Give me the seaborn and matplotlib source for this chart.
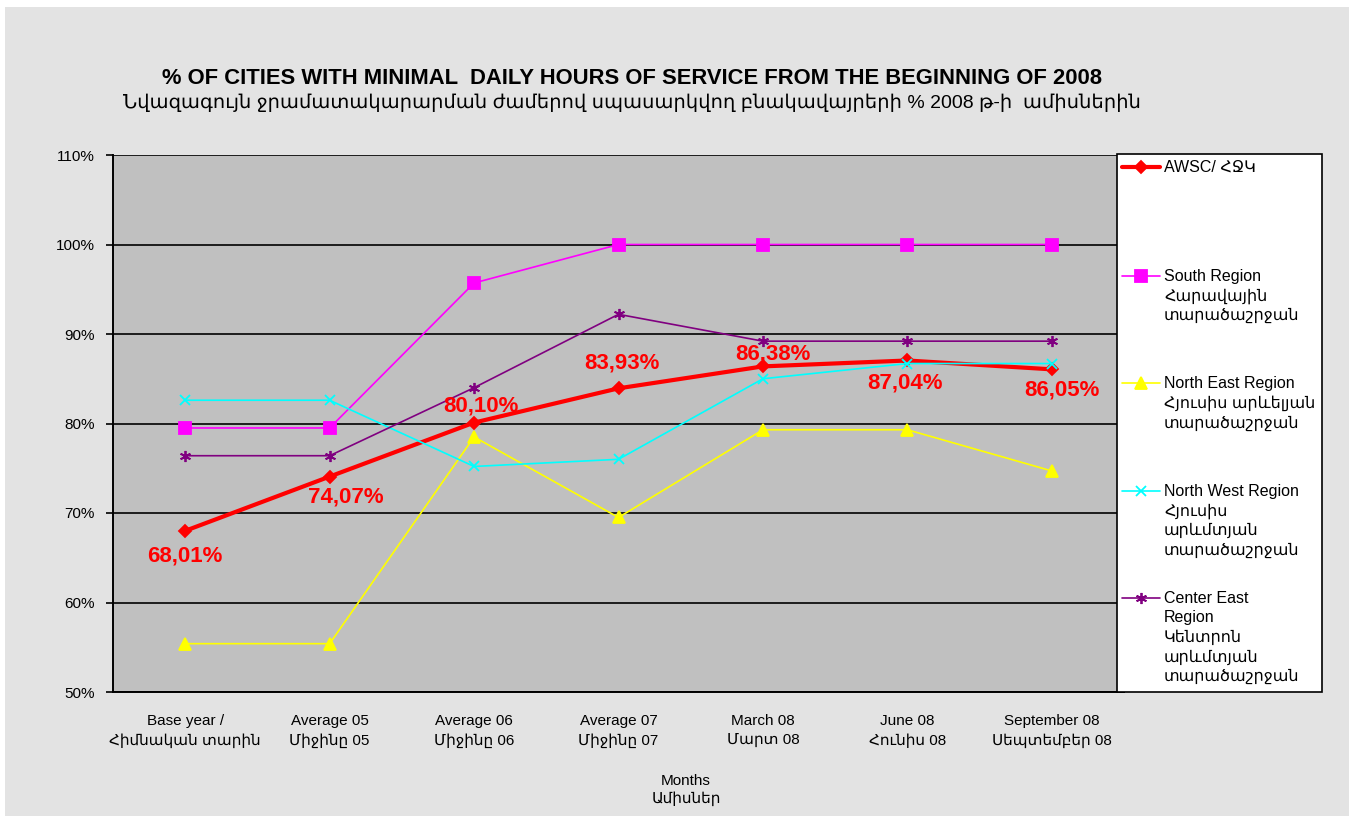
import matplotlib.pyplot as plt
import pandas as pd
import seaborn as sns
from matplotlib.lines import Line2D
from matplotlib.patches import Rectangle
from matplotlib.ticker import FixedLocator, PercentFormatter

W, H = 1349, 816

# data (percent of cities)
periods = [
    "Base year /\nՀիմնական տարին",
    "Average 05\nՄիջինը 05",
    "Average 06\nՄիջինը 06",
    "Average 07\nՄիջինը 07",
    "March 08\nՄարտ 08",
    "June 08\nՀունիս 08",
    "September 08\nՍեպտեմբեր 08",
]
awsc = [68.01, 74.07, 80.10, 83.93, 86.38, 87.04, 86.05]
south = [79.5, 79.5, 95.7, 100.0, 100.0, 100.0, 100.0]
north_east = [55.4, 55.4, 78.5, 69.5, 79.3, 79.3, 74.7]
north_west = [82.6, 82.6, 75.2, 76.0, 85.0, 86.7, 86.7]
center_east = [76.4, 76.4, 84.0, 92.2, 89.2, 89.2, 89.2]

series_names = [
    "AWSC/ ՀՋԿ",
    "South Region\nՀարավային\nտարածաշրջան",
    "North East Region\nՀյուսիս արևելյան\nտարածաշրջան",
    "North West Region\nՀյուսիս\nարևմտյան\nտարածաշրջան",
    "Center East\nRegion\nԿենտրոն\nարևմտյան\nտարածաշրջան",
]
series_values = [awsc, south, north_east, north_west, center_east]

# styles
colors = ["#ff0000", "#ff00ff", "#ffff00", "#00ffff", "#800080"]
markers = ["D", "s", "^", "x", (6, 2, 0)]
widths = [3.0, 1.2, 1.2, 1.2, 1.2]
msizes = [6, 8, 8, 7, 8]
label_offsets = [(0, -25), (16, -20), (7, 17), (3, 25), (10, 12), (-2, -23), (10, -21)]
legend_rows = [167, 276, 383, 491, 598]

sns.set_style("white")
plt.rcParams["font.family"] = ["Liberation Sans", "DejaVu Sans"]
plt.rcParams["text.color"] = "black"
plt.rcParams["xtick.color"] = "black"
plt.rcParams["ytick.color"] = "black"

fig = plt.figure(figsize=(W / 100, H / 100), dpi=100)
fig.patch.set_facecolor("white")
fig.add_artist(Rectangle((5 / W, 0), 1, 1 - 7 / H, transform=fig.transFigure,
                         facecolor="#e3e3e3", edgecolor="none", zorder=-5))

ax = fig.add_axes([113 / W, 1 - 692 / H, (1124 - 113) / W, (692 - 155) / H])
ax.set_facecolor("#c0c0c0")

frames = []
for name, vals in zip(series_names, series_values):
    frames.append(pd.DataFrame({"series": name, "pos": range(len(periods)), "value": vals}))
df = pd.concat(frames)

for name, c, m, lw, ms in zip(series_names, colors, markers, widths, msizes):
    sub = df[df["series"] == name]
    sns.lineplot(data=sub, x="pos", y="value", ax=ax, color=c, marker=m, lw=lw,
                 markersize=ms, markeredgecolor=c, markeredgewidth=1.3, zorder=3)

for i, (v, off) in enumerate(zip(awsc, label_offsets)):
    ax.annotate(f"{v:.2f}%".replace(".", ","), (i, v), xytext=off, textcoords="offset pixels",
                ha="center", va="center", color="#ff0000", fontsize=16, fontweight="bold", zorder=5)

ax.set_xlim(-0.5, len(periods) - 0.5)
ax.set_ylim(50, 110)
ax.yaxis.set_major_locator(FixedLocator(range(50, 111, 10)))
ax.yaxis.set_major_formatter(PercentFormatter(decimals=0))
ax.grid(axis="y", color="black", lw=1.2)
ax.grid(axis="x", visible=False)
ax.set_xticks(range(len(periods)))
ax.set_xticklabels(periods, fontsize=11, linespacing=1.45)
ax.set_xticks([x - 0.5 for x in range(len(periods) + 1)], minor=True)
ax.tick_params(axis="x", which="major", length=0, pad=16)
ax.tick_params(axis="x", which="minor", length=5, width=1.2, color="black", direction="out")
ax.tick_params(axis="y", length=5, width=1.2, color="black", direction="out", labelsize=11, pad=8, left=True)
ax.set_xlabel("")
ax.set_ylabel("")
for side in ["top", "right"]:
    ax.spines[side].set_visible(False)
for side in ["left", "bottom"]:
    ax.spines[side].set_color("black")
    ax.spines[side].set_linewidth(1.4)

fig.text(686 / W, 1 - 790 / H, "Months\nԱմիսներ", ha="center", va="center", fontsize=11, linespacing=1.35)
fig.text(632 / W, 1 - 78 / H, "% OF CITIES WITH MINIMAL  DAILY HOURS OF SERVICE FROM THE BEGINNING OF 2008",
         ha="center", va="center", fontsize=15.8, fontweight="bold")
fig.text(632 / W, 1 - 103 / H,
         "Նվազագույն ջրամատակարարման ժամերով սպասարկվող բնակավայրերի % 2008 թ-ի  ամիսներին",
         ha="center", va="center", fontsize=14)

# legend box drawn like the spreadsheet one
fig.add_artist(Rectangle((1117 / W, 1 - 692 / H), (1322 - 1117) / W, (692 - 154) / H,
                         transform=fig.transFigure, facecolor="white", edgecolor="black", lw=1.2, zorder=4))
for name, c, m, lw, ms, row in zip(series_names, colors, markers, widths, msizes, legend_rows):
    y = 1 - row / H
    fig.add_artist(Line2D([1122 / W, 1141 / W, 1160 / W], [y, y, y], transform=fig.transFigure,
                          color=c, lw=lw, marker=m, markevery=[1], markersize=ms,
                          markeredgecolor=c, markeredgewidth=1.3, zorder=5))
    fig.text(1164 / W, y + 7 / H, name, ha="left", va="top", fontsize=11.5, linespacing=1.35, zorder=6)

fig.savefig("out.png", dpi=100)
